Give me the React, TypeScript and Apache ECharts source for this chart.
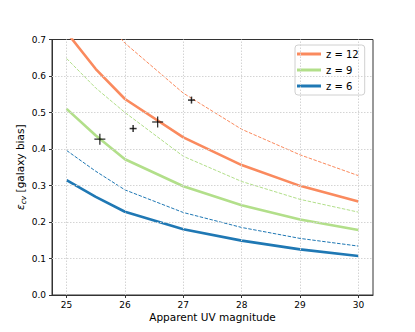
import React, { useEffect, useRef } from "react";
import * as echarts from "echarts";

const magnitudes = [25, 25.5, 26, 27, 28, 29, 30];
const z12Solid = [0.72, 0.619, 0.537, 0.432, 0.356, 0.299, 0.256];
const z12Dashed = [0.9, 0.78, 0.69, 0.553, 0.454, 0.384, 0.327];
const z9Solid = [0.51, 0.437, 0.372, 0.298, 0.246, 0.207, 0.178];
const z9Dashed = [0.648, 0.567, 0.5, 0.38, 0.311, 0.262, 0.227];
const z6Solid = [0.315, 0.269, 0.228, 0.18, 0.149, 0.125, 0.107];
const z6Dashed = [0.396, 0.339, 0.288, 0.226, 0.185, 0.155, 0.134];

const bigMarkers: [number, number][] = [
  [25.57, 0.427],
  [26.56, 0.474],
];
const smallMarkers: [number, number][] = [
  [26.14, 0.456],
  [27.14, 0.534],
];

const xTicks = [25, 26, 27, 28, 29, 30];
const yTicks = [0.1, 0.2, 0.3, 0.4, 0.5, 0.6];

const ORANGE = "#fa8a5e";
const GREEN = "#b2df8a";
const BLUE = "#1f78b4";
const FONT = "DejaVu Sans";

const pairs = (ys: number[]) => magnitudes.map((m, i) => [m, ys[i]]);

export default function App() {
  const ref = useRef<HTMLDivElement>(null);
  useEffect(() => {
    if (!ref.current) return;
    const chart = echarts.init(ref.current, undefined, { renderer: "svg" });
    const solid = (name: string, color: string, ys: number[]) => ({
      name,
      type: "line",
      data: pairs(ys),
      symbol: "none",
      z: 3,
      color,
      lineStyle: { color, width: 2.6 },
    });
    const dashed = (name: string, color: string, ys: number[]) => ({
      name,
      type: "line",
      data: pairs(ys),
      symbol: "none",
      z: 2,
      color,
      lineStyle: { color, width: 1, type: [3.5, 1.5] },
    });
    const plus = (pts: [number, number][], size: number, w: number) => [
      {
        type: "scatter",
        data: pts,
        symbol: "rect",
        symbolSize: [size, w],
        itemStyle: { color: "#000" },
        z: 5,
        silent: true,
      },
      {
        type: "scatter",
        data: pts,
        symbol: "rect",
        symbolSize: [w, size],
        itemStyle: { color: "#000" },
        z: 5,
        silent: true,
      },
    ];
    const gridStyle = { color: "#d4d4d4", width: 1, type: [1.5, 1.5] };
    chart.setOption({
      animation: false,
      grid: {
        left: 52,
        top: 39.5,
        width: 321,
        height: 255.5,
        show: true,
        borderColor: "#333",
        borderWidth: 1,
        backgroundColor: "transparent",
      },
      legend: {
        data: ["z = 12", "z = 9", "z = 6"],
        orient: "vertical",
        left: 295,
        top: 45,
        itemWidth: 24,
        itemHeight: 3,
        itemGap: 4,
        icon: "rect",
        padding: [3, 6, 3, 2],
        backgroundColor: "#fff",
        borderColor: "#d0d0d0",
        borderWidth: 1,
        borderRadius: 3,
        textStyle: { fontFamily: FONT, fontSize: 10, color: "#000", lineHeight: 12 },
        itemStyle: { borderWidth: 0 },
        selectedMode: false,
      },
      xAxis: {
        type: "value",
        min: 24.75,
        max: 30.25,
        name: "Apparent UV magnitude",
        nameLocation: "middle",
        nameGap: 16,
        nameMoveOverlap: false,
        nameTextStyle: { fontFamily: FONT, fontSize: 10.5, color: "#000" },
        axisLine: { show: true, onZero: false, lineStyle: { color: "#333", width: 1 } },
        axisTick: {
          show: true,
          inside: false,
          length: 3,
          customValues: xTicks,
          lineStyle: { color: "#333" },
        },
        axisLabel: {
          customValues: xTicks,
          margin: 5,
          fontFamily: FONT,
          fontSize: 9,
          color: "#000",
          formatter: (v: number) => String(v),
        },
        splitLine: { show: false },
      },
      yAxis: {
        type: "value",
        min: 0,
        max: 0.7,
        interval: 0.1,
        name: "{e|ε}{s|cv} [galaxy bias]",
        nameLocation: "middle",
        nameGap: 25,
        nameMoveOverlap: false,
        nameTextStyle: {
          fontFamily: FONT,
          fontSize: 10.5,
          color: "#000",
          rich: {
            e: { fontFamily: FONT, fontSize: 10.5, fontStyle: "italic", color: "#000", lineHeight: 14, verticalAlign: "middle" },
            s: { fontFamily: FONT, fontSize: 7.5, fontStyle: "italic", color: "#000", lineHeight: 14, verticalAlign: "bottom", padding: [3, 0, 0, 0] },
          },
        },
        axisLine: { show: true, lineStyle: { color: "#333", width: 1 } },
        axisTick: { show: true, inside: false, length: 3, lineStyle: { color: "#333" } },
        axisLabel: {
          margin: 6,
          fontFamily: FONT,
          fontSize: 9,
          color: "#000",
          formatter: (v: number) => v.toFixed(1),
        },
        splitLine: { show: false },
      },
      series: [
        {
          name: "grid",
          type: "line",
          data: [],
          z: 1,
          silent: true,
          markLine: {
            silent: true,
            symbol: ["none", "none"],
            label: { show: false },
            lineStyle: gridStyle,
            emphasis: { disabled: true },
            data: [
              ...xTicks.map((x) => ({ xAxis: x, lineStyle: gridStyle })),
              ...yTicks.map((y) => ({ yAxis: y, lineStyle: gridStyle })),
            ],
          },
        },
        dashed("z = 12 dashed", ORANGE, z12Dashed),
        dashed("z = 9 dashed", GREEN, z9Dashed),
        dashed("z = 6 dashed", BLUE, z6Dashed),
        solid("z = 12", ORANGE, z12Solid),
        solid("z = 9", GREEN, z9Solid),
        solid("z = 6", BLUE, z6Solid),
        ...plus(bigMarkers, 11, 1.3),
        ...plus(smallMarkers, 7, 1.5),
      ],
    });
    return () => chart.dispose();
  }, []);
  return (
    <div
      ref={ref}
      style={{ position: "fixed", left: 0, top: 0, width: 415, height: 332, background: "#fff" }}
    />
  );
}
